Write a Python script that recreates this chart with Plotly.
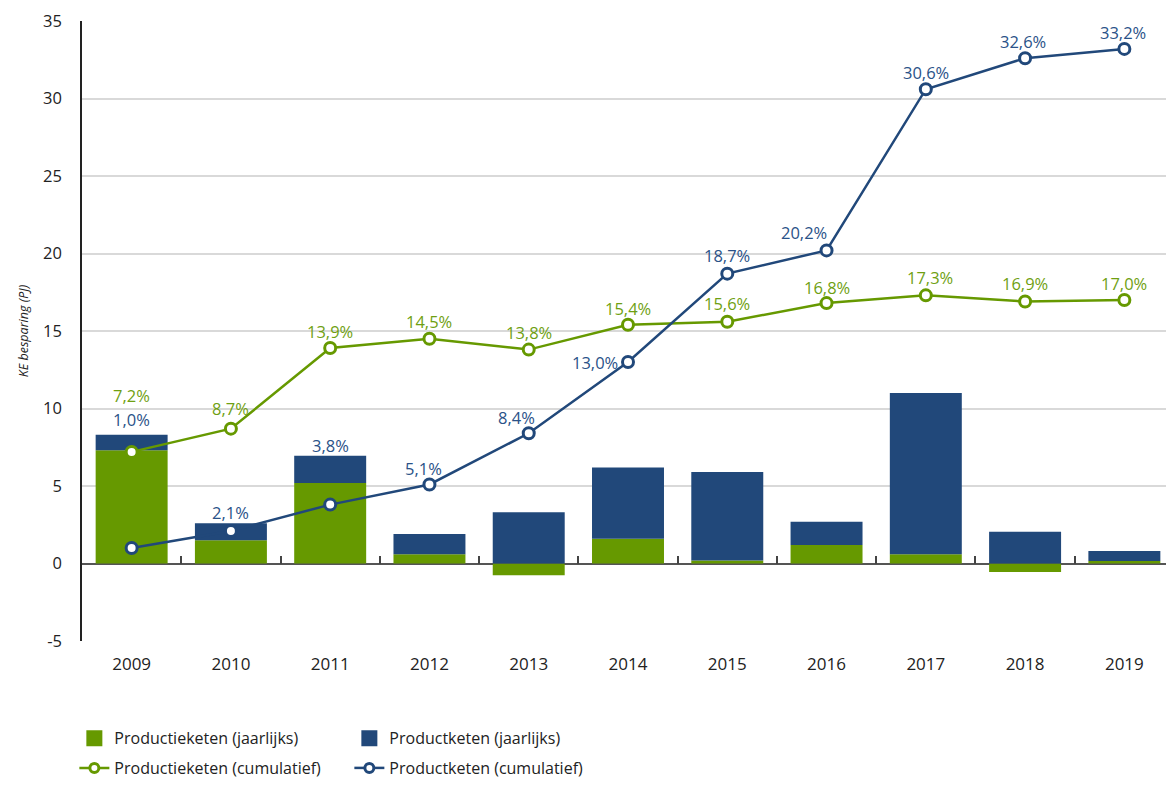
import plotly.graph_objects as go

years = ["2009", "2010", "2011", "2012", "2013", "2014", "2015", "2016", "2017", "2018", "2019"]
productieketen_jaarlijks = [7.3, 1.5, 5.2, 0.6, -0.75, 1.6, 0.2, 1.2, 0.6, -0.55, 0.16]
productketen_jaarlijks = [1.0, 1.1, 1.75, 1.3, 3.3, 4.6, 5.7, 1.5, 10.4, 2.05, 0.65]
productieketen_cumulatief = [7.2, 8.7, 13.9, 14.5, 13.8, 15.4, 15.6, 16.8, 17.3, 16.9, 17.0]
productketen_cumulatief = [1.0, 2.1, 3.8, 5.1, 8.4, 13.0, 18.7, 20.2, 30.6, 32.6, 33.2]
y_ticks = [-5, 0, 5, 10, 15, 20, 25, 30, 35]
boundary_ticks = [0.5, 1.5, 2.5, 3.5, 4.5, 5.5, 6.5, 7.5, 8.5, 9.5]

GREEN = "#669900"
BLUE = "#21487a"
GREEN_TXT = "#6f9f12"
BLUE_TXT = "#2a5288"
FONT = "Open Sans"

# label offsets (px) - styling
green_yshift = [56, 20, 17, 17, 17, 16, 18, 16, 18, 18, 17]
green_xshift = [0, 0, 0, 0, 0, 0, 0, 0, 4, 0, 0]
blue_on_bar = [True, True, True, False, False, False, False, False, False, False, False]
blue_yshift = [15, 11, 10, 16, 16, 0, 18, 18, 17, 17, 16]
blue_xshift = [0, 0, 0, -6, -12, -8, 0, -23, 0, -2, -1]
blue_xanchor = ["center"] * 5 + ["right"] + ["center"] * 5


def fmt(v):
    return f"{v:.1f}".replace(".", ",") + "%"


fig = go.Figure()

fig.add_trace(go.Bar(x=years, y=productieketen_jaarlijks, marker=dict(color=GREEN, line=dict(width=0)),
                     name="Productieketen (jaarlijks)", showlegend=False))
fig.add_trace(go.Bar(x=years, y=productketen_jaarlijks, marker=dict(color=BLUE, line=dict(width=0)),
                     name="Productketen (jaarlijks)", showlegend=False))


def line_marker(c, size=11):
    return dict(symbol="circle", size=size, color="white", line=dict(color=c, width=3))


fig.add_trace(go.Scatter(x=years, y=productieketen_cumulatief, mode="lines+markers",
                         line=dict(color=GREEN, width=2.5), marker=line_marker(GREEN),
                         name="Productieketen (cumulatief)", showlegend=False))
fig.add_trace(go.Scatter(x=years, y=productketen_cumulatief, mode="lines+markers",
                         line=dict(color=BLUE, width=2.5), marker=line_marker(BLUE),
                         name="Productketen (cumulatief)", showlegend=False))

# legend entries
fig.add_trace(go.Scatter(x=[None], y=[None], mode="markers", name="Productieketen (jaarlijks)",
                         marker=dict(symbol="square", size=22, color=GREEN), legend="legend"))
fig.add_trace(go.Scatter(x=[None], y=[None], mode="markers", name="Productketen (jaarlijks)",
                         marker=dict(symbol="square", size=22, color=BLUE), legend="legend"))
fig.add_trace(go.Scatter(x=[None], y=[None], mode="lines+markers", name="Productieketen (cumulatief)",
                         line=dict(color=GREEN, width=2.5), marker=line_marker(GREEN, 9),
                         legend="legend2"))
fig.add_trace(go.Scatter(x=[None], y=[None], mode="lines+markers", name="Productketen (cumulatief)",
                         line=dict(color=BLUE, width=2.5), marker=line_marker(BLUE, 9),
                         legend="legend2"))

# dummy trace for the boundary-tick axis
fig.add_trace(go.Scatter(x=[None], y=[None], xaxis="x2", showlegend=False, hoverinfo="skip"))

# value labels (x given as category index)
for i, yr in enumerate(years):
    fig.add_annotation(x=i, y=productieketen_cumulatief[i], xref="x", yref="y",
                       text=fmt(productieketen_cumulatief[i]), showarrow=False,
                       xanchor="center", yanchor="middle",
                       xshift=green_xshift[i], yshift=green_yshift[i],
                       font=dict(family=FONT, size=16.5, color=GREEN_TXT))
    if blue_on_bar[i]:
        ay = productieketen_jaarlijks[i] + productketen_jaarlijks[i]
    else:
        ay = productketen_cumulatief[i]
    fig.add_annotation(x=i, y=ay, xref="x", yref="y", text=fmt(productketen_cumulatief[i]),
                       showarrow=False, xanchor=blue_xanchor[i], yanchor="middle",
                       xshift=blue_xshift[i], yshift=blue_yshift[i],
                       font=dict(family=FONT, size=16.5, color=BLUE_TXT))

legend_common = dict(orientation="h", x=-0.007, xanchor="left", yanchor="middle",
                     entrywidth=230, entrywidthmode="pixels", font=dict(size=16, color="#222"),
                     itemsizing="trace", traceorder="normal", bgcolor="rgba(0,0,0,0)")

fig.update_layout(
    width=1166, height=777,
    margin=dict(l=74, r=0, t=13, b=143),
    paper_bgcolor="white", plot_bgcolor="white",
    barmode="relative", bargap=0.275,
    font=dict(family=FONT, size=16, color="#222"),
    xaxis=dict(type="category", showgrid=False, showline=False, zeroline=False, ticks="",
               tickfont=dict(size=17, color="#222"), ticklabelstandoff=11, range=[-0.5, 10.5]),
    xaxis2=dict(overlaying="x", anchor="free", position=0.125, side="bottom", range=[-0.5, 10.5],
                tickmode="array", tickvals=boundary_ticks, ticks="inside", ticklen=8, tickwidth=1.5,
                tickcolor="#444", showticklabels=False, showgrid=False, zeroline=False, showline=False),
    yaxis=dict(range=[-5, 35], tickmode="array", tickvals=y_ticks, ticktext=[str(v) for v in y_ticks],
               showgrid=True, gridcolor="#d9d9d9", gridwidth=1.5,
               zeroline=True, zerolinecolor="#555", zerolinewidth=1.5,
               showline=True, linecolor="#222", linewidth=1.5, ticks="",
               tickfont=dict(size=16.5, color="#222"), ticklabelstandoff=15,
               title=dict(text="<i>KE besparing (PJ)</i>", font=dict(size=12.5, color="#222"), standoff=12)),
    legend=dict(**legend_common, y=-0.155),
    legend2=dict(**legend_common, y=-0.205),
    showlegend=True,
)

fig.write_html("out.html")
